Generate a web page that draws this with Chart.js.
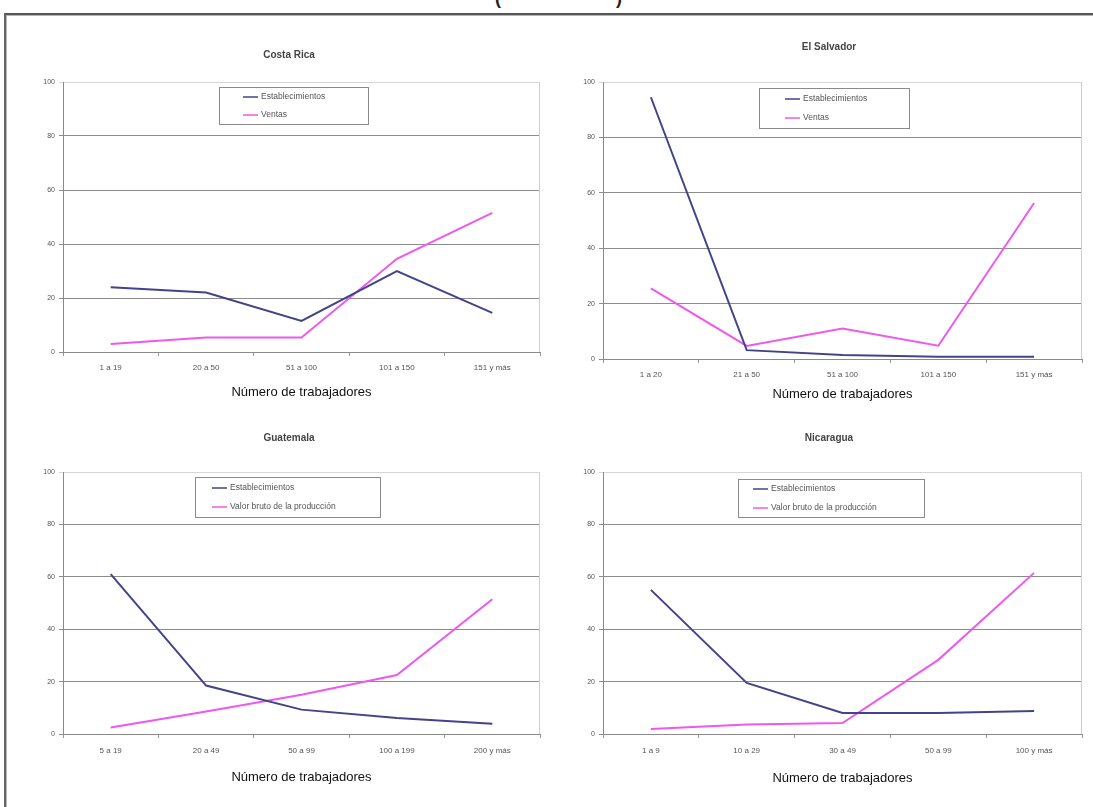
<!DOCTYPE html>
<html lang="es">
<head>
  <meta charset="UTF-8" />
  <title>Establecimientos y ventas por número de trabajadores</title>
  <script src="https://cdn.jsdelivr.net/npm/chart.js"></script>
  <style>
    body { margin: 0; background: #fff; width: 1093px; height: 807px; overflow: hidden; position: relative;
           font-family: "Liberation Sans", Arial, sans-serif; }
    .frame { position: absolute; left: 4px; top: 13px; width: 1200px; height: 900px;
             border-top: 2px solid #555; border-left: 2px solid #666; box-shadow: inset 1px 1px 0 #b5b5b5; }
    .top-title { position: absolute; left: 495px; top: -12px; font: bold 18px/20px "Liberation Sans", Arial, sans-serif;
                 white-space: pre; color: #222; }
    canvas { position: absolute; }
  </style>
</head>
<body>
  <div class="top-title">(                       )</div>
  <div class="frame"></div>

  <canvas id="crChart"></canvas>
  <canvas id="esChart"></canvas>
  <canvas id="guChart"></canvas>
  <canvas id="niChart"></canvas>

  <script>
    // values (percent)
    const crCategories = ["1 a 19", "20 a 50", "51 a 100", "101 a 150", "151 y más"];
    const crEstablecimientos = [24, 22, 11.5, 30, 14.5];
    const crVentas = [3, 5.4, 5.4, 34.5, 51.5];

    const esCategories = ["1 a 20", "21 a 50", "51 a 100", "101 a 150", "151 y más"];
    const esEstablecimientos = [94.5, 3.2, 1.4, 0.8, 0.8];
    const esVentas = [25.5, 4.7, 11, 4.8, 56.3];

    const guCategories = ["5 a 19", "20 a 49", "50 a 99", "100 a 199", "200 y más"];
    const guEstablecimientos = [61, 18.5, 9.3, 6.1, 3.9];
    const guValorBruto = [2.5, 8.6, 15, 22.5, 51.4];

    const niCategories = ["1 a 9", "10 a 29", "30 a 49", "50 a 99", "100 y más"];
    const niEstablecimientos = [55, 19.5, 8, 8, 8.8];
    const niValorBruto = [1.9, 3.6, 4.2, 28.3, 61.5];

    const yTicks = [0, 20, 40, 60, 80, 100];
    const xTitle = "Número de trabajadores";

    const NAVY = '#43438a';
    const PINK = '#ee58ee';
    const FONT = '"Liberation Sans", Arial, sans-serif';

    // draws the panel title, legend box and the light right edge of the plot
    const panelDecor = {
      id: 'panelDecor',
      afterDraw(chart, args, o) {
        const ctx = chart.ctx, a = chart.chartArea;
        ctx.save();
        ctx.strokeStyle = '#d0d0d0';
        ctx.lineWidth = 1;
        ctx.beginPath();
        ctx.moveTo(a.right - 0.5, a.top);
        ctx.lineTo(a.right - 0.5, a.bottom);
        ctx.stroke();

        ctx.fillStyle = '#444';
        ctx.font = 'bold 10px ' + FONT;
        ctx.textAlign = 'center';
        ctx.textBaseline = 'middle';
        ctx.fillText(o.title, o.titleX - o.left, o.titleY - o.top);

        const L = o.legend;
        const lx = L.x - o.left, ly = L.y - o.top;
        ctx.fillStyle = '#fff';
        ctx.fillRect(lx, ly, L.w, L.h);
        ctx.strokeStyle = '#8a8a8a';
        ctx.strokeRect(lx + 0.5, ly + 0.5, L.w, L.h);
        chart.data.datasets.forEach((ds, i) => {
          const y = L.rows[i] - o.top;
          const x = L.lineX - o.left;
          ctx.strokeStyle = ds.borderColor;
          ctx.lineWidth = 1.5;
          ctx.beginPath();
          ctx.moveTo(x, y);
          ctx.lineTo(x + 15, y);
          ctx.stroke();
          ctx.fillStyle = '#555';
          ctx.font = '8.5px ' + FONT;
          ctx.textAlign = 'left';
          ctx.fillText(ds.label, x + 18, y);
        });
        ctx.restore();
      }
    };

    function makeChart(id, p) {
      const canvas = document.getElementById(id);
      canvas.width = p.box.w;
      canvas.height = p.box.h;
      canvas.style.left = p.box.x + 'px';
      canvas.style.top = p.box.y + 'px';

      const yWidth = p.plot.x0 - p.box.x;
      const xHeight = p.box.y + p.box.h - p.plot.y1;

      return new Chart(canvas.getContext('2d'), {
        type: 'line',
        data: {
          labels: p.labels,
          datasets: [
            { label: "Establecimientos", data: p.a, borderColor: NAVY, borderWidth: 2, pointRadius: 0, tension: 0, fill: false },
            { label: p.bLabel, data: p.b, borderColor: PINK, borderWidth: 2, pointRadius: 0, tension: 0, fill: false }
          ]
        },
        options: {
          responsive: false,
          animation: false,
          devicePixelRatio: 1,
          layout: { padding: { left: 0, top: p.plot.y0 - p.box.y, right: p.box.x + p.box.w - p.plot.x1, bottom: 0 } },
          plugins: {
            legend: { display: false },
            tooltip: { enabled: false },
            panelDecor: {
              title: p.title, titleX: p.titleX, titleY: p.titleY,
              left: p.box.x, top: p.box.y, legend: p.legend
            }
          },
          scales: {
            x: {
              offset: true,
              grid: { display: true, drawOnChartArea: false, offset: true, tickLength: 4, color: '#999' },
              border: { color: '#8a8a8a', width: 1 },
              ticks: { color: '#555', font: { family: FONT, size: 8 }, padding: p.xPad, maxRotation: 0, autoSkip: false },
              title: { display: true, text: xTitle, color: '#111', font: { family: FONT, size: 13 },
                       padding: { top: 0, bottom: p.titlePad } },
              afterFit: s => { s.height = xHeight; }
            },
            y: {
              min: 0, max: 100,
              afterBuildTicks: s => { s.ticks = yTicks.map(v => ({ value: v })); },
              grid: { color: c => (c.tick && c.tick.value === 100) ? '#d6d6d6' : '#8c8c8c', tickLength: 4, lineWidth: 1 },
              border: { color: '#8a8a8a', width: 1 },
              ticks: { color: '#555', font: { family: FONT, size: 7 }, padding: 4 },
              afterFit: s => { s.width = yWidth; }
            }
          }
        },
        plugins: [panelDecor]
      });
    }

    makeChart('crChart', {
      labels: crCategories, a: crEstablecimientos, b: crVentas, bLabel: "Ventas",
      box: { x: 8, y: 30, w: 545, h: 375 },
      plot: { x0: 63, x1: 540, y0: 82, y1: 352 },
      xPad: 7, titlePad: 5,
      title: "Costa Rica", titleX: 289, titleY: 55,
      legend: { x: 219, y: 87, w: 149, h: 37, lineX: 243, rows: [97, 115] }
    });

    makeChart('esChart', {
      labels: esCategories, a: esEstablecimientos, b: esVentas, bLabel: "Ventas",
      box: { x: 555, y: 30, w: 535, h: 380 },
      plot: { x0: 603, x1: 1082, y0: 82, y1: 359 },
      xPad: 7, titlePad: 8,
      title: "El Salvador", titleX: 829, titleY: 47,
      legend: { x: 759, y: 88, w: 150, h: 40, lineX: 785, rows: [99, 118] }
    });

    makeChart('guChart', {
      labels: guCategories, a: guEstablecimientos, b: guValorBruto, bLabel: "Valor bruto de la producción",
      box: { x: 8, y: 415, w: 545, h: 375 },
      plot: { x0: 63, x1: 540, y0: 472, y1: 734 },
      xPad: 8, titlePad: 5,
      title: "Guatemala", titleX: 289, titleY: 438,
      legend: { x: 195, y: 477, w: 185, h: 40, lineX: 212, rows: [488, 507] }
    });

    makeChart('niChart', {
      labels: niCategories, a: niEstablecimientos, b: niValorBruto, bLabel: "Valor bruto de la producción",
      box: { x: 555, y: 415, w: 535, h: 375 },
      plot: { x0: 603, x1: 1082, y0: 472, y1: 734 },
      xPad: 8, titlePad: 4,
      title: "Nicaragua", titleX: 829, titleY: 438,
      legend: { x: 738, y: 479, w: 186, h: 38, lineX: 753, rows: [489, 508] }
    });
  </script>
</body>
</html>
